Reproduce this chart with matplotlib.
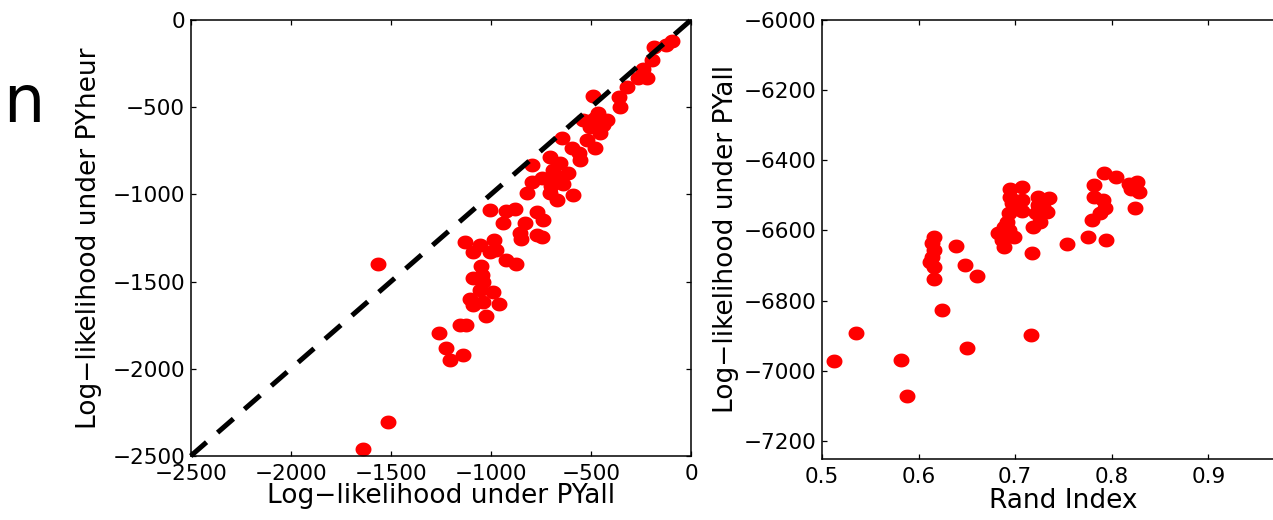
import numpy as np
import matplotlib
matplotlib.use("Agg")
import matplotlib.pyplot as plt

plt.rcParams["font.family"] = ["DejaVu Sans"]

# ── data: left panel (log-likelihood PYall vs PYheur) ─────────────────────
pyall = [-95, -125, -185, -195, -240, -222, -265, -322, -362, -355,
         -488, -463, -422, -538, -505, -455, -480, -440, -510, -470,
         -647, -597, -522, -480, -555, -705, -797, -655, -613, -672,
         -747, -797, -822, -705, -672, -588, -690, -640, -700, -560,
         -1005, -922, -880, -772, -738, -938, -830, -855, -847, -772,
         -747, -985, -1130, -1055, -1088, -1005, -975, -922, -872, -1047,
         -1042, -1088, -1038, -1055, -988, -1105, -1088, -1038, -960, -1022,
         -1155, -1122, -1260, -1222, -1138, -1202, -1562, -1512, -1637]
pyheur = [-120, -145, -155, -228, -280, -332, -330, -384, -442, -498,
          -436, -535, -573, -573, -612, -650, -560, -600, -580, -600,
          -678, -736, -688, -736, -803, -784, -832, -822, -879, -898,
          -908, -927, -994, -994, -1032, -1003, -860, -940, -950, -760,
          -1089, -1093, -1086, -1099, -1147, -1166, -1166, -1223, -1258, -1233,
          -1246, -1260, -1271, -1290, -1329, -1329, -1319, -1376, -1399, -1410,
          -1462, -1481, -1500, -1548, -1558, -1602, -1634, -1615, -1630, -1696,
          -1749, -1749, -1797, -1883, -1921, -1950, -1399, -2307, -2460]

# ── data: right panel (Rand index vs log-likelihood) ──────────────────────
rand_idx = [0.792, 0.804, 0.782, 0.826, 0.818, 0.828, 0.820, 0.824, 0.782, 0.791,
            0.793, 0.788, 0.779, 0.775, 0.794, 0.754,
            0.707, 0.695, 0.695, 0.697, 0.694, 0.692, 0.688, 0.682, 0.686, 0.688,
            0.699, 0.694, 0.707, 0.707, 0.700,
            0.724, 0.735, 0.724, 0.733, 0.722, 0.718, 0.726, 0.729, 0.717,
            0.639, 0.616, 0.614, 0.616, 0.614, 0.612, 0.616, 0.648, 0.616, 0.660,
            0.624, 0.535, 0.716, 0.512, 0.582, 0.650, 0.588]
loglik_all = [-6437, -6449, -6471, -6461, -6468, -6490, -6482, -6537, -6504, -6513,
              -6537, -6551, -6570, -6618, -6627, -6638,
              -6475, -6483, -6504, -6523, -6551, -6575, -6589, -6608, -6627, -6646,
              -6619, -6598, -6513, -6544, -6530,
              -6504, -6508, -6528, -6547, -6551, -6589, -6575, -6532, -6663,
              -6643, -6618, -6637, -6656, -6675, -6689, -6703, -6698, -6739, -6729,
              -6826, -6893, -6897, -6971, -6968, -6935, -7071]

# slightly flattened dot, like the stretched original
t = np.linspace(0, 2 * np.pi, 40)
DOT = np.column_stack([np.cos(t), 0.87 * np.sin(t)])

fig = plt.figure(figsize=(12.73, 5.2), dpi=100)
fig.patch.set_facecolor("white")

ax1 = fig.add_axes([190.7 / 1273, 64 / 520, 500.3 / 1273, 436 / 520])
ax2 = fig.add_axes([822 / 1273, 61 / 520, 483 / 1273, 439.5 / 520])


def style(ax):
    for s in ax.spines.values():
        s.set_linewidth(1.1)
    ax.tick_params(direction="in", length=3.5, width=0.9, top=True, right=True,
                   labelsize=15.5, colors="black")
    ax.tick_params(axis="x", pad=5.5)
    ax.tick_params(axis="y", pad=4)


# ── left panel ────────────────────────────────────────────────────────────
ax1.plot(pyall, pyheur, linestyle="none", marker=DOT, markersize=11.5,
         color="#ff0000", markeredgewidth=0, zorder=2)
ax1.plot([-2500, 0], [-2500, 0], color="black", lw=3.6,
         linestyle=(0, (4.2, 2.93)), dash_capstyle="butt", zorder=3, clip_on=False)
ax1.set_xlim(-2500, 0)
ax1.set_ylim(-2500, 0)
ax1.set_xticks(np.arange(-2500, 1, 500))
ax1.set_yticks(np.arange(-2500, 1, 500))
style(ax1)
ax1.set_xlabel("Log\u2212likelihood under PYall", fontsize=19, va="top")
ax1.set_ylabel("Log\u2212likelihood under PYheur", fontsize=19)
ax1.xaxis.set_label_coords(0.5, -0.062)
ax1.yaxis.set_label_coords(-0.177, 0.5)

# ── right panel ───────────────────────────────────────────────────────────
ax2.plot(rand_idx, loglik_all, linestyle="none", marker=DOT, markersize=11.5,
         color="#ff0000", markeredgewidth=0, zorder=2)
ax2.set_xlim(0.5, 1.0)
ax2.set_ylim(-7250, -6000)
ax2.set_xticks([0.5, 0.6, 0.7, 0.8, 0.9])
ax2.set_yticks(np.arange(-7200, -5999, 200))
style(ax2)
ax2.set_xlabel("Rand Index", fontsize=19, va="top")
ax2.set_ylabel("Log\u2212likelihood under PYall", fontsize=19)
ax2.xaxis.set_label_coords(0.5, -0.066)
ax2.yaxis.set_label_coords(-0.172, 0.5)

# panel letter
fig.text(3 / 1273, 1 - 122 / 520, "n", fontsize=47, ha="left", va="baseline")

fig.savefig("out.png", dpi=100, facecolor="white")
